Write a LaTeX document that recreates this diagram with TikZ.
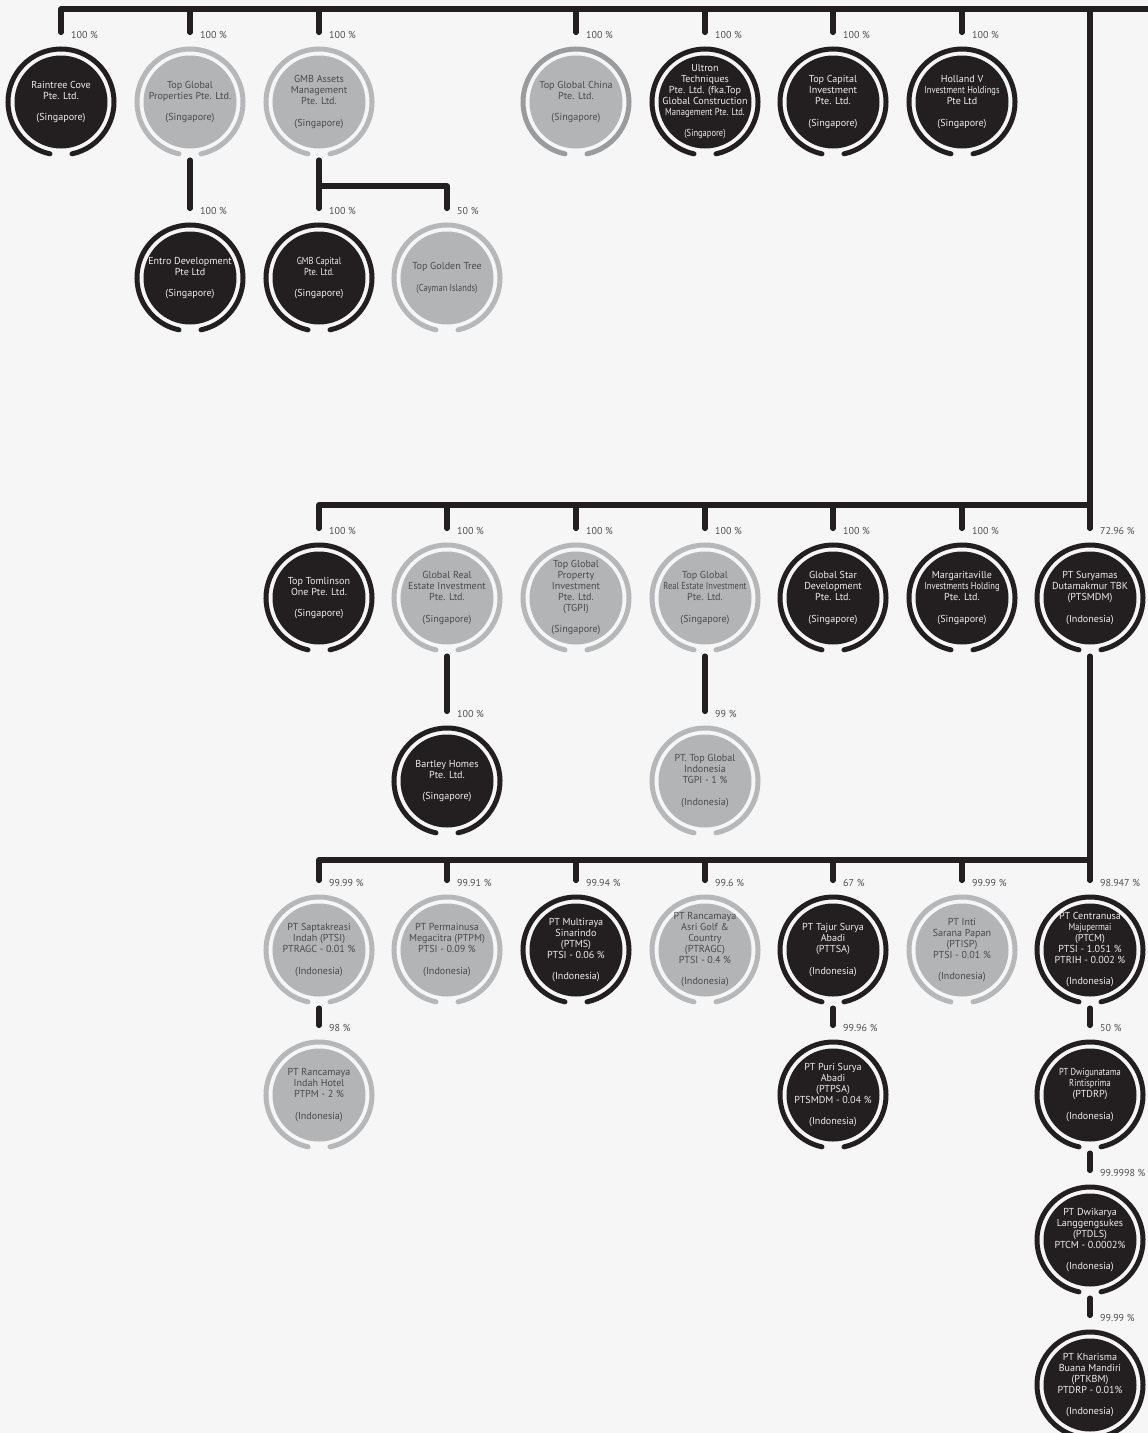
\documentclass[tikz,border=0pt]{standalone}
\usepackage{fontspec}
\setmainfont{PT Sans}
\newfontfamily\cfont{PT Sans}[FakeStretch=0.84]
\usetikzlibrary{calc}
\definecolor{bg}{HTML}{F6F6F6}
\definecolor{dk}{HTML}{231F20}
\definecolor{gy}{HTML}{B3B4B6}
\definecolor{gyring}{HTML}{B6B7B9}
\definecolor{gydark}{HTML}{9A9B9D}
\definecolor{txtlight}{HTML}{EDEDED}
\definecolor{txtdark}{HTML}{4A4A4A}
\definecolor{pctc}{HTML}{4F4F4F}
\tikzset{
  x=1pt,y=1pt,
  conn/.style={draw=dk, line width=5.5pt, line cap=round, line join=round},
  holder/.style={rectangle, minimum width=111pt, minimum height=111pt, inner sep=0pt, align=center, font=\fontsize{10.1}{10.9}\selectfont},
  pctlabel/.style={anchor=west, inner sep=0pt, font=\fontsize{10}{10}\selectfont, text=pctc},
  discD/.style={fill=dk}, ringD/.style={draw=dk, line width=5pt, line cap=round}, txtD/.style={text=txtlight},
  discG/.style={fill=gy}, ringG/.style={draw=gyring, line width=5pt, line cap=round}, txtG/.style={text=txtdark},
  discH/.style={fill=gy}, ringH/.style={draw=gydark, line width=5pt, line cap=round}, txtH/.style={text=txtdark},
}
\newcommand\ent[5]{%
  \fill[disc#4] (#2,#3) circle[radius=46.5pt];
  \draw[ring#4] ($(#2,#3)+(-78:53pt)$) arc[start angle=-78,end angle=258,radius=53pt];
  \node[holder, txt#4] (#1) at (#2,#3) {#5};
  \coordinate (#1-in) at ([yshift=14pt]#1.north);
}
\newcommand\pctof[2]{\node[pctlabel] (#1-p) at ([xshift=10pt,yshift=11.5pt]#1.north) {#2};}
\newcommand\bl{\\[10.5pt]}
\begin{document}
\begin{tikzpicture}
\fill[bg] (0,0) rectangle (1148,-1433);
\useasboundingbox (0,0) rectangle (1148,-1433);
% ---------- row 1
\ent{raintree}{61}{-102}{D}{Raintree Cove\\Pte. Ltd.\bl(Singapore)}
\ent{tgp}{190}{-102}{G}{Top Global\\Properties Pte. Ltd.\bl(Singapore)}
\ent{gmba}{319}{-102}{G}{GMB Assets\\Management\\Pte. Ltd.\bl(Singapore)}
\ent{tgc}{576}{-102}{H}{Top Global China\\Pte. Ltd.\bl(Singapore)}
\ent{ultron}{705}{-102}{D}{Ultron\\Techniques\\Pte. Ltd. (fka.Top\\Global Construction\\{\cfont Management Pte. Ltd.}\bl{\cfont (Singapore)}}
\ent{tci}{833}{-102}{D}{Top Capital\\Investment\\Pte. Ltd.\bl(Singapore)}
\ent{holland}{962}{-102}{D}{Holland V\\{\cfont Investment Holdings}\\Pte Ltd\bl(Singapore)}
% ---------- row 2
\ent{entro}{190}{-278}{D}{Entro Development\\Pte Ltd\bl(Singapore)}
\ent{gmbc}{319}{-278}{D}{{\cfont GMB Capital}\\{\cfont Pte. Ltd.}\bl(Singapore)}
\ent{tgt}{447}{-278}{G}{Top Golden Tree\bl{\cfont (Cayman Islands)}}
% ---------- row 3
\ent{tomlinson}{319}{-598}{D}{Top Tomlinson\\One Pte. Ltd.\bl(Singapore)}
\ent{gre}{447}{-598}{G}{Global Real\\Estate Investment\\Pte. Ltd.\bl(Singapore)}
\ent{tgpi}{576}{-598}{G}{Top Global\\Property\\Investment\\Pte. Ltd.\\(TGPI)\bl(Singapore)}
\ent{tgre}{705}{-598}{G}{Top Global\\{\cfont Real Estate Investment}\\Pte. Ltd.\bl(Singapore)}
\ent{gsd}{833}{-598}{D}{Global Star\\Development\\Pte. Ltd.\bl(Singapore)}
\ent{marg}{962}{-598}{D}{Margaritaville\\{\cfont Investments Holding}\\Pte. Ltd.\bl(Singapore)}
\ent{ptsmdm}{1090}{-598}{D}{PT Suryamas\\Dutamakmur TBK\\(PTSMDM)\bl(Indonesia)}
\ent{bartley}{447}{-781}{D}{Bartley Homes\\Pte. Ltd.\bl(Singapore)}
\ent{ptgi}{705}{-781}{G}{PT. Top Global\\Indonesia\\TGPI - 1 \%\bl(Indonesia)}
% ---------- row 4
\ent{sapta}{319}{-950}{G}{PT Saptakreasi\\Indah (PTSI)\\PTRAGC - 0.01 \%\bl(Indonesia)}
\ent{perma}{447}{-950}{G}{PT Permainusa\\Megacitra (PTPM)\\PTSI - 0.09 \%\bl(Indonesia)}
\ent{multi}{576}{-950}{D}{PT Multiraya\\Sinarindo\\(PTMS)\\PTSI - 0.06 \%\bl(Indonesia)}
\ent{ranca}{705}{-950}{G}{PT Rancamaya\\Asri Golf \&\\Country\\(PTRAGC)\\PTSI - 0.4 \%\bl(Indonesia)}
\ent{tajur}{833}{-950}{D}{PT Tajur Surya\\Abadi\\(PTTSA)\bl(Indonesia)}
\ent{inti}{962}{-950}{G}{PT Inti\\Sarana Papan\\(PTISP)\\PTSI - 0.01 \%\bl(Indonesia)}
\ent{centra}{1090}{-950}{D}{PT Centranusa\\{\cfont Majupermai}\\(PTCM)\\PTSI - 1.051 \%\\PTRIH - 0.002 \%\bl(Indonesia)}
% ---------- row 5+
\ent{rhotel}{319}{-1095}{G}{PT Rancamaya\\Indah Hotel\\PTPM - 2 \%\bl(Indonesia)}
\ent{puri}{833}{-1095}{D}{PT Puri Surya\\Abadi\\(PTPSA)\\PTSMDM - 0.04 \%\bl(Indonesia)}
\ent{dwigu}{1090}{-1095}{D}{{\cfont PT Dwigunatama}\\{\cfont Rintisprima}\\(PTDRP)\bl(Indonesia)}
\ent{dwika}{1090}{-1240}{D}{PT Dwikarya\\Langgengsukes\\(PTDLS)\\PTCM - 0.0002\%\bl(Indonesia)}
\ent{khar}{1090}{-1385}{D}{PT Kharisma\\Buana Mandiri\\(PTKBM)\\PTDRP - 0.01\%\bl(Indonesia)}
% ---------- bars
\coordinate (tb) at (0,-9);
\coordinate (tbR) at (1160,-9);
\coordinate (r2) at (0,-186);
\coordinate (r3) at (0,-505);
\coordinate (r4) at (0,-860);
% row 1 connectors
\draw[conn] (raintree-in) |- (tbR);
\foreach \n in {tgp,gmba,tgc,ultron,tci,holland}{\draw[conn] (tb -| \n) -- (\n-in);}
\draw[conn] (tb -| ptsmdm) -- (ptsmdm-in);
% row 2
\draw[conn] ([yshift=-2.5pt]tgp.south) -- (entro-in);
\draw[conn] ([yshift=-2.5pt]gmba.south) -- (gmbc-in);
\draw[conn] (r2 -| gmba) -| (tgt-in);
% row 3
\draw[conn] (tomlinson-in) |- (r3 -| ptsmdm);
\foreach \n in {gre,tgpi,tgre,gsd,marg}{\draw[conn] (r3 -| \n) -- (\n-in);}
\draw[conn] ([yshift=-2.5pt]gre.south) -- (bartley-in);
\draw[conn] ([yshift=-2.5pt]tgre.south) -- (ptgi-in);
% row 4
\draw[conn] ([yshift=-2.5pt]ptsmdm.south) -- (centra-in);
\draw[conn] (sapta-in) |- (r4 -| centra);
\foreach \n in {perma,multi,ranca,tajur,inti}{\draw[conn] (r4 -| \n) -- (\n-in);}
% row 5+
\draw[conn] ([yshift=-2.5pt]sapta.south) -- (rhotel-in);
\draw[conn] ([yshift=-2.5pt]tajur.south) -- (puri-in);
\draw[conn] ([yshift=-2.5pt]centra.south) -- (dwigu-in);
\draw[conn] ([yshift=-2.5pt]dwigu.south) -- (dwika-in);
\draw[conn] ([yshift=-2.5pt]dwika.south) -- (khar-in);
% ---------- percentages
\foreach \n in {raintree,tgp,gmba,tgc,ultron,tci,holland,entro,gmbc,tomlinson,gre,tgpi,tgre,gsd,marg,bartley}{\pctof{\n}{100 \%}}
\pctof{tgt}{50 \%}
\pctof{ptsmdm}{72.96 \%}
\pctof{ptgi}{99 \%}
\pctof{sapta}{99.99 \%}
\pctof{perma}{99.91 \%}
\pctof{multi}{99.94 \%}
\pctof{ranca}{99.6 \%}
\pctof{tajur}{67 \%}
\pctof{inti}{99.99 \%}
\pctof{centra}{98.947 \%}
\pctof{rhotel}{98 \%}
\pctof{puri}{99.96 \%}
\pctof{dwigu}{50 \%}
\pctof{dwika}{99.9998 \%}
\pctof{khar}{99.99 \%}
\end{tikzpicture}
\end{document}
